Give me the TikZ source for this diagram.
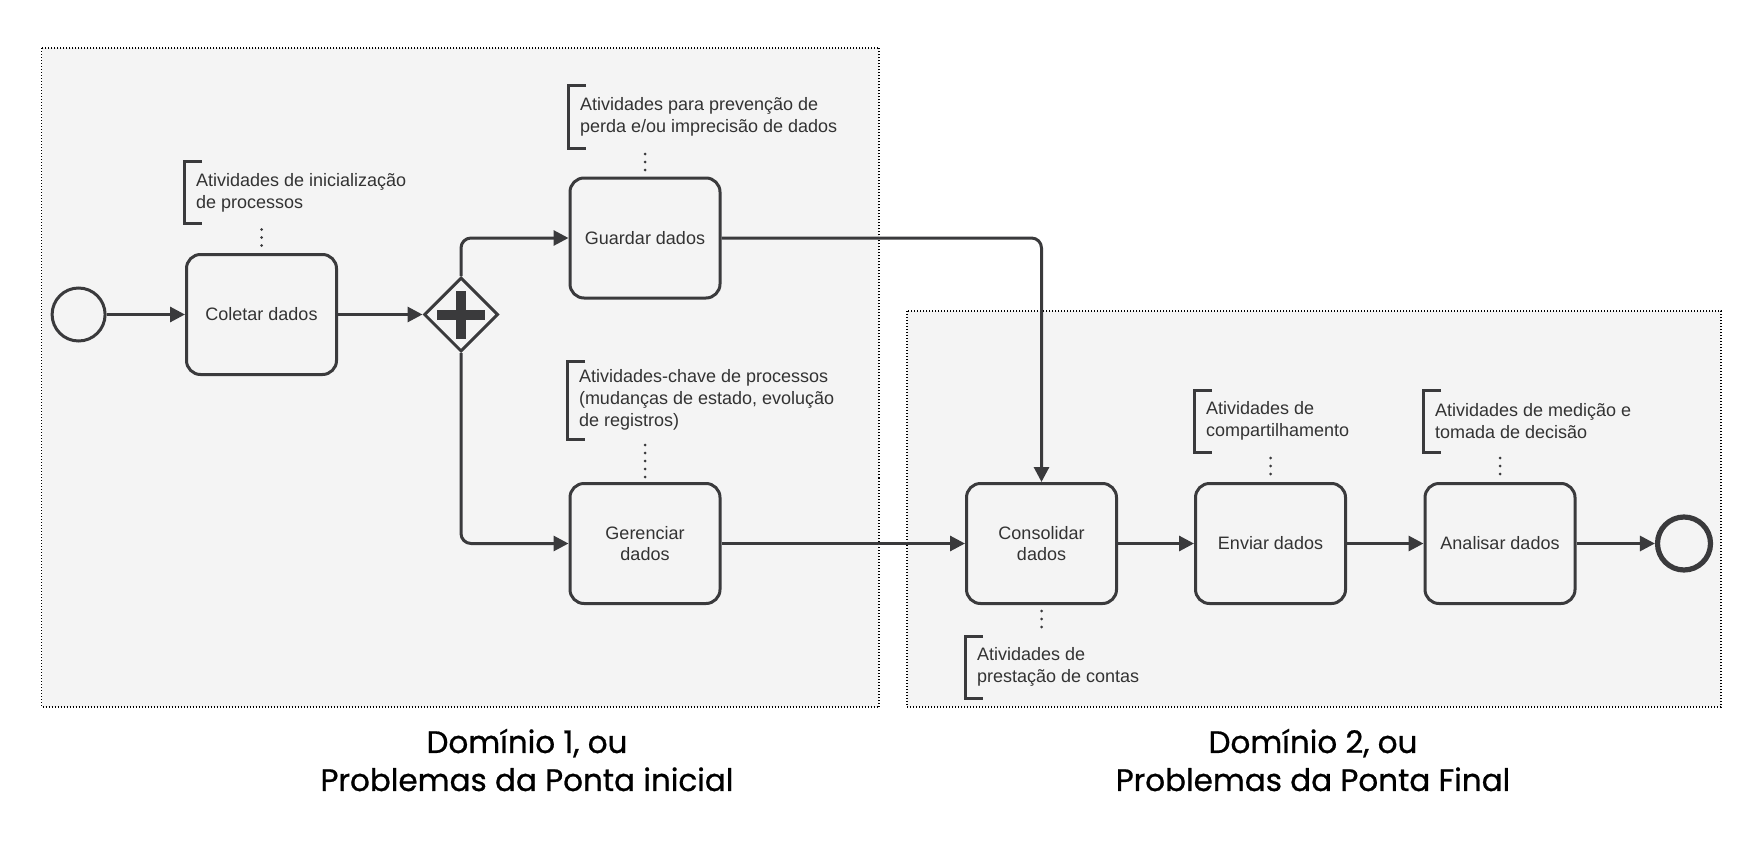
\documentclass[tikz,border=0pt]{standalone}
\usepackage{fontspec}
\setmainfont{Liberation Sans}
\newfontfamily\titlefont{Poppins}[FakeBold=0.8]
\usetikzlibrary{arrows.meta,shapes.geometric}
\definecolor{lnclr}{HTML}{3A3A3C}
\definecolor{bgclr}{HTML}{F4F4F4}
\definecolor{txclr}{HTML}{333333}

\tikzset{
    zone/.style={fill=bgclr, draw=black, line width=0.6pt, dash pattern=on 0.5pt off 1pt},
    task/.style={draw=lnclr, line width=1.5pt, rounded corners=7pt, minimum width=75pt, minimum height=60pt,
        align=center, text=txclr, font=\fontsize{9}{10.9}\selectfont, inner sep=2pt},
    event/.style={circle, draw=lnclr, line width=1.5pt, minimum size=26.5pt, inner sep=0pt},
    gate/.style={diamond, aspect=1, draw=lnclr, line width=1.5pt, minimum width=37pt, minimum height=37pt, inner sep=0pt},
    note/.style={anchor=west, align=left, inner xsep=6pt, inner ysep=0pt, outer sep=0pt, minimum height=31pt,
        text=txclr, font=\fontsize{9}{10.9}\selectfont},
    bracket/.style={draw=lnclr, line width=1.5pt},
    dots/.style={draw=lnclr, line width=1.5pt, line cap=round, dash pattern=on 0pt off 4pt, shorten <=3pt, shorten >=2.5pt},
    flow/.style={draw=lnclr, line width=1.5pt, -{Triangle[length=7.5pt,width=7.5pt]}},
    title/.style={align=center, font=\titlefont\fontsize{15.5}{19}\selectfont}
}

\begin{document}
\begin{tikzpicture}[x=0.5pt, y=-0.5pt]
    \useasboundingbox (0,0) rectangle (1760,840);
    % domains
    \draw[zone] (41.5,48) rectangle (879,707);
    \draw[zone] (907,311) rectangle (1721,707);
    % tasks and events
    \node[event] (start) at (78.6,314.5) {};
    \node[task] (coletar) at (261.5,314.5) {Coletar dados};
    \node[gate] (gw) at (461,314.5) {};
    \draw[lnclr, line width=5pt] ([xshift=-12pt]gw.center) -- ([xshift=12pt]gw.center);
    \draw[lnclr, line width=5pt] ([yshift=-12pt]gw.center) -- ([yshift=12pt]gw.center);
    \node[task] (guardar) at (645,238) {Guardar dados};
    \node[task] (gerenciar) at (645,543.5) {Gerenciar\\dados};
    \node[task] (consolidar) at (1041.5,543.5) {Consolidar\\dados};
    \node[task] (enviar) at (1270.5,543.5) {Enviar dados};
    \node[task] (analisar) at (1500,543.5) {Analisar dados};
    \node[event, line width=2.6pt] (end) at (1684,543.5) {};
    % annotations
    \node[note] (ncol) at (184,192.5) {Atividades de inicialização\\de processos};
    \node[note] (ngua) at (568,117) {Atividades para prevenção de\\perda e/ou imprecisão de dados};
    \node[note, minimum height=39pt] (nger) at (567,400) {Atividades-chave de processos\\(mudanças de estado, evolução\\de registros)};
    \node[note] (ncon) at (965,667) {Atividades de\\prestação de contas};
    \node[note] (nenv) at (1194,421) {Atividades de\\compartilhamento};
    \node[note] (nana) at (1423,421) {Atividades de medição e\\tomada de decisão};
    \foreach \n in {ncol,ngua,nger,ncon,nenv,nana}
        \draw[bracket] ([xshift=9pt]\n.north west) -- (\n.north west) -- (\n.south west) -- ([xshift=9pt]\n.south west);
    \draw[dots] (ncol.south -| coletar.north) -- (coletar.north);
    \draw[dots] (ngua.south -| guardar.north) -- (guardar.north);
    \draw[dots] (nger.south -| gerenciar.north) -- (gerenciar.north);
    \draw[dots] (nenv.south -| enviar.north) -- (enviar.north);
    \draw[dots] (nana.south -| analisar.north) -- (analisar.north);
    \draw[dots] (consolidar.south) -- (ncon.north -| consolidar.south);
    % flows
    \draw[flow] (start) -- (coletar);
    \draw[flow] (coletar) -- (gw);
    \draw[flow, rounded corners=5pt] (gw.north) |- (guardar.west);
    \draw[flow, rounded corners=5pt] (gw.south) |- (gerenciar.west);
    \draw[flow, rounded corners=5pt] (guardar.east) -| (consolidar.north);
    \draw[flow] (gerenciar) -- (consolidar);
    \draw[flow] (consolidar) -- (enviar);
    \draw[flow] (enviar) -- (analisar);
    \draw[flow] (analisar) -- (end);
    % domain titles
    \node[title] (tone) at (527,760) {Domínio 1, ou\\Problemas da Ponta inicial};
    \node[title] (ttwo) at (1313,760) {Domínio 2, ou\\Problemas da Ponta Final};
\end{tikzpicture}
\end{document}
